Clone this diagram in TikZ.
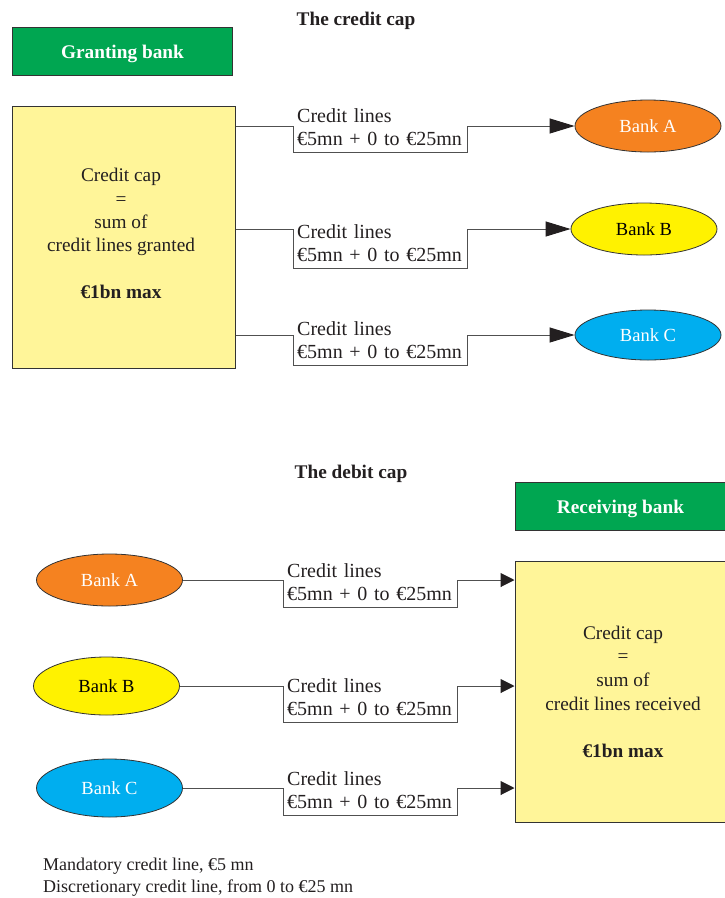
\documentclass[tikz,border=0pt]{standalone}
\usepackage{fontspec}
\setmainfont{Liberation Serif}
\usetikzlibrary{shapes.geometric,arrows.meta}

\definecolor{bankgreen}{HTML}{00A651}
\definecolor{capyellow}{HTML}{FFF599}
\definecolor{bankorange}{HTML}{F58220}
\definecolor{bankyellow}{HTML}{FFF200}
\definecolor{bankcyan}{HTML}{00AEEF}
\definecolor{edgegray}{HTML}{333333}
\definecolor{linegray}{HTML}{505050}
\definecolor{inkgray}{HTML}{231F20}

\tikzset{
  headbox/.style={draw=edgegray, line width=1pt, fill=bankgreen, text=white,
    font=\fontsize{19.3}{23}\selectfont\bfseries, inner sep=0pt},
  capbox/.style={draw=edgegray, line width=1pt, fill=capyellow, inner sep=0pt},
  captext/.style={font=\fontsize{19.3}{23.4}\selectfont, align=center, text=inkgray},
  title/.style={font=\fontsize{19.3}{23}\selectfont\bfseries, text=inkgray},
  bank/.style={ellipse, draw=edgegray, line width=0.8pt, minimum width=146pt,
    minimum height=52pt, inner sep=0pt, font=\fontsize{18.5}{22}\selectfont},
  linelabel/.style={anchor=south west, align=left, text width=166.5pt,
    inner xsep=4pt, inner ysep=6pt,
    font=\fontsize{20}{23.5}\selectfont, text=inkgray},
  conn/.style={draw=linegray, line width=1pt},
  bigtip/.style={-{Triangle[length=25pt,width=15pt,color=inkgray]}},
  smalltip/.style={-{Triangle[length=14pt,width=14pt,color=inkgray]}},
}

\newcommand{\linetext}{Credit lines\\\mbox{€5mn + 0 to €25mn}}

\begin{document}
\begin{tikzpicture}[x=1pt,y=-1pt]
  \useasboundingbox (0,0) rectangle (724,898);

  % ---------- upper half: the credit cap ----------
  \node[title] (t1) at (356,21) {The credit cap};
  \node[headbox, minimum width=220pt, minimum height=48pt] (grant) at (122.5,51) {};
  \node[headbox, draw=none, fill=none] (granttxt) at (122.5,54) {Granting bank};

  \node[capbox, minimum width=223pt, minimum height=262pt] (gcap) at (123.5,237) {};
  \node[captext] (gtxt) at (121,233.5)
    {Credit cap\\=\\sum of\\credit lines granted\\[23.3pt]\textbf{€1bn max}};

  \node[bank, fill=bankorange, text=white] (gA) at (648,126) {Bank A};
  \node[bank, fill=bankyellow, text=black] (gB) at (644,229) {Bank B};
  \node[bank, fill=bankcyan,   text=white, minimum height=50pt] (gC) at (648,335) {Bank C};

  \node[linelabel] (l1) at (293,152) {\linetext};
  \node[linelabel] (l2) at (293,268) {\linetext};
  \node[linelabel] (l3) at (293,365) {\linetext};

  \draw[conn, bigtip] (gA.west -| gcap.east) -| (l1.south west) -- (l1.south east) |- (gA.west);
  \draw[conn, bigtip] (gB.west -| gcap.east) -| (l2.south west) -- (l2.south east) |- (gB.west);
  \draw[conn, bigtip] (gC.west -| gcap.east) -| (l3.south west) -- (l3.south east) |- (gC.west);

  % ---------- lower half: the debit cap ----------
  \node[title] (t2) at (351,474) {The debit cap};
  \node[headbox, minimum width=211pt, minimum height=48pt] (recv) at (620.5,506) {};
  \node[headbox, draw=none, fill=none] (recvtxt) at (620.5,509) {Receiving bank};

  \node[capbox, minimum width=216pt, minimum height=261pt] (rcap) at (623,691.5) {};
  \node[captext, font=\fontsize{19.3}{23.7}\selectfont] (rtxt) at (623,691.5)
    {Credit cap\\=\\sum of\\credit lines received\\[23.3pt]\textbf{€1bn max}};

  \node[bank, fill=bankorange, text=white] (rA) at (109.5,580) {Bank A};
  \node[bank, fill=bankyellow, text=black, minimum height=58pt] (rB) at (106.5,686) {Bank B};
  \node[bank, fill=bankcyan,   text=white, minimum height=58pt] (rC) at (109.5,788) {Bank C};

  \node[linelabel] (m1) at (283,607) {\linetext};
  \node[linelabel] (m2) at (283,722) {\linetext};
  \node[linelabel] (m3) at (283,815) {\linetext};

  \draw[conn, smalltip] (rA.east) -| (m1.south west) -- (m1.south east) |- (rcap.west |- rA.east);
  \draw[conn, smalltip] (rB.east) -| (m2.south west) -- (m2.south east) |- (rcap.west |- rB.east);
  \draw[conn, smalltip] (rC.east) -| (m3.south west) -- (m3.south east) |- (rcap.west |- rC.east);

  % ---------- key ----------
  \node[anchor=west, align=left, inner sep=0pt, text=inkgray,
        font=\fontsize{18}{22}\selectfont] (key) at (43,877.5)
    {Mandatory credit line, €5 mn\\Discretionary credit line, from 0 to €25 mn};
\end{tikzpicture}
\end{document}
